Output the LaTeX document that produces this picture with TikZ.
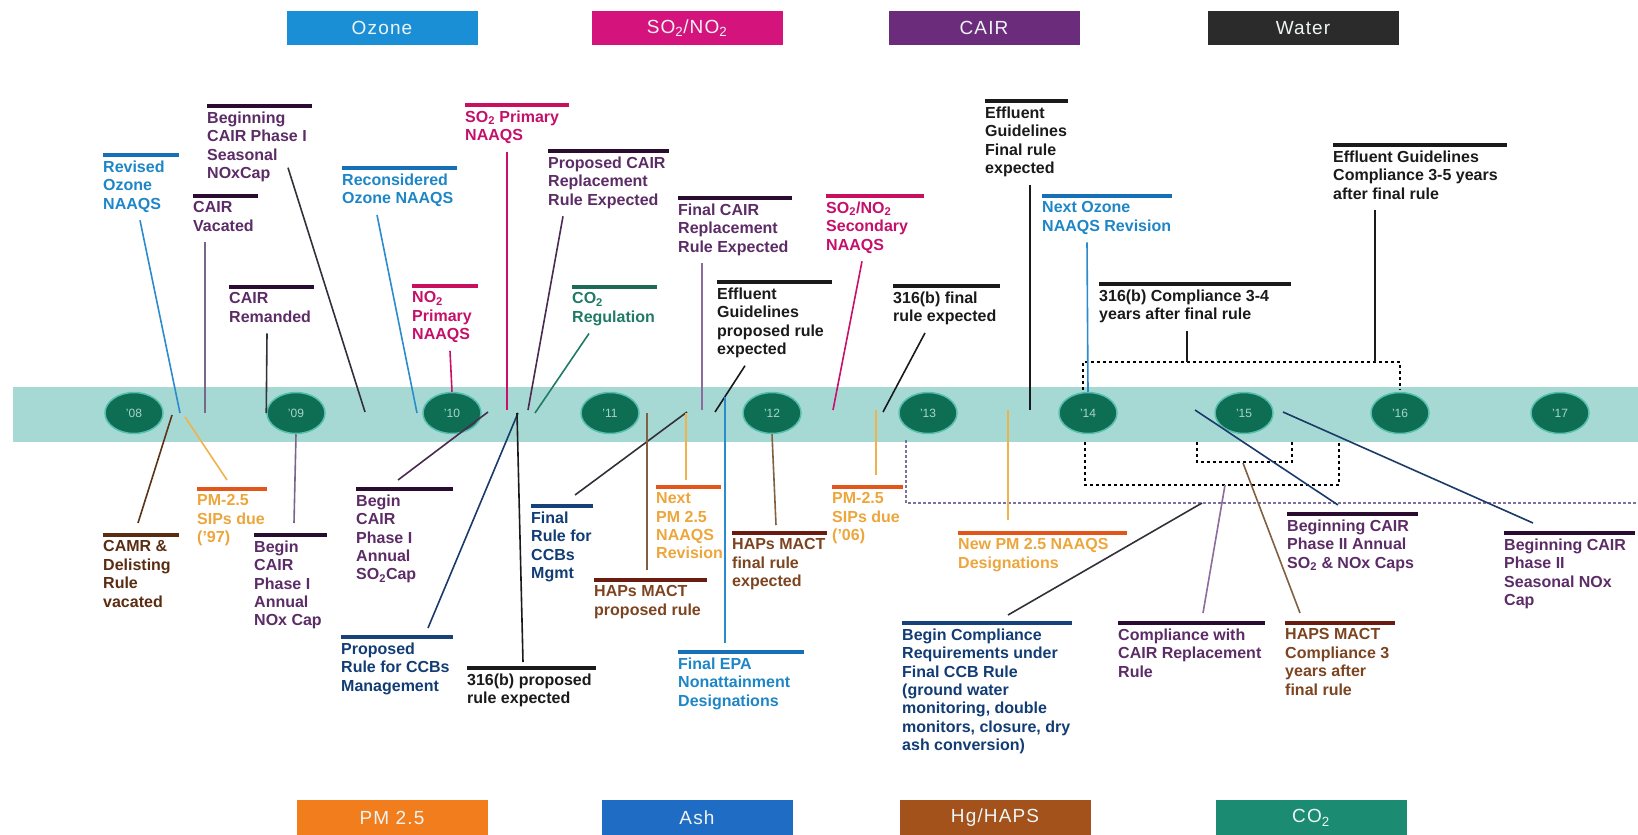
\documentclass[tikz,border=0pt]{standalone}
\usepackage{fontspec}
\setmainfont{Liberation Sans}
\newfontfamily\legfont{Liberation Sans}[LetterSpace=6]
\usetikzlibrary{shapes.geometric,calc}

\definecolor{bandteal}{HTML}{A7D9D4}
\definecolor{yeargreen}{HTML}{0E6E54}
\definecolor{yearring}{HTML}{58BFAE}
\definecolor{yeartext}{HTML}{A8D4CA}
\definecolor{legtext}{HTML}{EEF4F4}
% legend colours
\definecolor{ozleg}{HTML}{1B8FD6}
\definecolor{magleg}{HTML}{D4147C}
\definecolor{cairleg}{HTML}{6B2C7C}
\definecolor{waterleg}{HTML}{2B2B2B}
\definecolor{pmleg}{HTML}{F27D1C}
\definecolor{ashleg}{HTML}{1F6CC4}
\definecolor{hgleg}{HTML}{A3521C}
\definecolor{co2leg}{HTML}{1B8C72}
% label text and bar colours
\definecolor{oztext}{HTML}{1E86C6}
\definecolor{ozbar}{HTML}{1670B8}
\definecolor{magtext}{HTML}{C4106A}
\definecolor{magbar}{HTML}{C8105E}
\definecolor{cairtext}{HTML}{5C2C66}
\definecolor{cairbar}{HTML}{2A0C30}
\definecolor{blacktext}{HTML}{1A1A1A}
\definecolor{camrtext}{HTML}{5A2C12}
\definecolor{pmtext}{HTML}{ECA63C}
\definecolor{pmbar}{HTML}{E2561A}
\definecolor{navytext}{HTML}{123C74}
\definecolor{navybar}{HTML}{16417A}
\definecolor{hapstext}{HTML}{7C4420}
\definecolor{hapsbar}{HTML}{6A1C10}
\definecolor{co2text}{HTML}{1F7A68}
\definecolor{co2bar}{HTML}{1D6A56}
% leader line colours
\definecolor{ozline}{HTML}{2A8CCC}
\definecolor{cairline}{HTML}{7A6688}
\definecolor{darkline}{HTML}{33303A}
\definecolor{magline}{HTML}{C8106A}
\definecolor{propline}{HTML}{4A2A50}
\definecolor{co2line}{HTML}{1F7A66}
\definecolor{fincairline}{HTML}{8C6C9C}
\definecolor{brownline}{HTML}{5A3418}
\definecolor{pmline}{HTML}{F0B24A}
\definecolor{navyline}{HTML}{1A3A6A}
\definecolor{hapsline}{HTML}{806040}
\definecolor{dotline}{HTML}{8070A0}

\tikzset{
  evtext/.style={anchor=north west, inner xsep=0pt, inner ysep=5.5pt, align=left, text=#1,
    font=\fontsize{16}{18.4}\selectfont\bfseries, execute at begin node=\strut},
  topbar/.style={draw=#1, line width=4pt},
  leader/.style={draw=#1, line width=1.6pt},
  yearnode/.style={ellipse, fill=yeargreen, draw=yearring, line width=1.5pt, minimum width=58pt,
    minimum height=41pt, inner sep=0pt, text=yeartext, font=\fontsize{12}{14}\selectfont},
  legbox/.style={fill=#1, minimum width=191pt, minimum height=34pt, inner sep=0pt, text=legtext,
    font=\legfont\fontsize{19}{22}\selectfont},
  bracket/.style={draw=black, line width=1.4pt, dashed},
}

\begin{document}
\begin{tikzpicture}[x=1pt,y=1pt,yscale=-1,xscale=1]
\useasboundingbox (0,0) rectangle (1638,835);

% Legend top
\node[legbox=ozleg] (lozone) at (382,28) {Ozone};
\node[legbox=magleg] (lso2) at (687,28) {SO\textsubscript{2}/NO\textsubscript{2}};
\node[legbox=cairleg] (lcair) at (984,28) {CAIR};
\node[legbox=waterleg] (lwater) at (1303,28) {Water};
% Legend bottom
\node[legbox=pmleg, minimum height=36pt] (lpm) at (392,818) {PM 2.5};
\node[legbox=ashleg, minimum height=36pt] (lash) at (697,818) {Ash};
\node[legbox=hgleg, minimum height=36pt] (lhg) at (995,818) {Hg/HAPS};
\node[legbox=co2leg, minimum height=36pt] (lco2) at (1311,818) {CO\textsubscript{2}};

%Shape: timeline band
\fill[bandteal] (13,387) rectangle (1638,442);
% years
\node[yearnode] (y08) at (134,413) {'08};
\node[yearnode] (y09) at (296,413) {'09};
\node[yearnode] (y10) at (452,413) {'10};
\node[yearnode] (y11) at (610,413) {'11};
\node[yearnode] (y12) at (772,413) {'12};
\node[yearnode] (y13) at (928,413) {'13};
\node[yearnode] (y14) at (1088,413) {'14};
\node[yearnode] (y15) at (1244,413) {'15};
\node[yearnode] (y16) at (1400,413) {'16};
\node[yearnode] (y17) at (1560,413) {'17};

% band points where the leaders end
\coordinate (revozT) at (180,413);
\coordinate (cairvacT) at (205,413);
\coordinate (cairpsT) at (365,412);
\coordinate (reconozT) at (417,413);
\coordinate (so2pT) at (507,410);
\coordinate (propcairT) at (528,410);
\coordinate (co2regT) at (535,413);
\coordinate (fincairT) at (702,410);
\coordinate (effpropT) at (715,412);
\coordinate (so2secT) at (833,410);
\coordinate (bfinT) at (883,412);
\coordinate (efffinT) at (1030,410);
\coordinate (camrT) at (172,415);
\coordinate (pmaT) at (185,417);
\coordinate (cairsoT) at (488,412);
\coordinate (propccbT) at (518,413);
\coordinate (bpropT) at (517,413);
\coordinate (finccbT) at (687,412);
\coordinate (hapspropT) at (647,413);
\coordinate (nextpmT) at (686,413);
\coordinate (finepaT) at (725,397);
\coordinate (pmbT) at (876,410);
\coordinate (newpmT) at (1008,410);
\coordinate (cairpaT) at (1195,410);
\coordinate (cairpbT) at (1283,412);

%Shape: brackets
\draw[bracket] (1083,390) -- (1083,362) -- (1400,362) -- (1400,390);
\coordinate (bcompT) at (1187,362);
\coordinate (effcompT) at (1375,362);
\draw[bracket] (1085,442) -- (1085,485) -- (1339,485) -- (1339,441);
\coordinate (cairreplT) at (1225,485);
\draw[bracket] (1197,442) -- (1197,462) -- (1292,462) -- (1292,440);
\coordinate (hapscompT) at (1243,463);
\draw[dotline, line width=1.4pt, densely dashed] (906,440) -- (906,503) -- (1638,503);
\coordinate (ccbcompT) at (1202,503);

% Text Node -- above the band
\node[evtext=oztext] (revoz) at (103,155) {Revised\\Ozone\\NAAQS};
\draw[topbar=ozbar] (revoz.north west) -- ++(76,0);
\draw[leader=ozline] ($(revoz.south west)+(37,0)$) -- (revozT);

\node[evtext=cairtext] (cairvac) at (193,196) {CAIR\\Vacated};
\draw[topbar=cairbar] (cairvac.north west) -- ++(65,0);
\draw[leader=cairline] ($(cairvac.south west)+(12,0)$) -- (cairvacT);

\node[evtext=cairtext] (cairps) at (207,106) {Beginning\\CAIR Phase I\\Seasonal\\NOxCap};
\draw[topbar=cairbar] (cairps.north west) -- ++(105,0);
\draw[leader=darkline] ($(cairps.south west)+(81,-22)$) -- (cairpsT);

\node[evtext=oztext] (reconoz) at (342,168) {Reconsidered\\Ozone NAAQS};
\draw[topbar=ozbar] (reconoz.north west) -- ++(115,0);
\draw[leader=ozline] ($(reconoz.south west)+(35,0)$) -- (reconozT);

\node[evtext=cairtext] (cairrem) at (229,287) {CAIR\\Remanded};
\draw[topbar=cairbar] (cairrem.north west) -- ++(85,0);
\draw[leader=darkline] ($(cairrem.south west)+(38,0)$) -- (y09.west);

\node[evtext=magtext] (so2p) at (465,105) {SO\textsubscript{2} Primary\\NAAQS};
\draw[topbar=magbar] (so2p.north west) -- ++(104,0);
\draw[leader=magline] ($(so2p.south west)+(42,0)$) -- (so2pT);

\node[evtext=magtext] (no2p) at (412,286) {NO\textsubscript{2}\\Primary\\NAAQS};
\draw[topbar=magbar] (no2p.north west) -- ++(66,0);
\draw[leader=magline] ($(no2p.south west)+(38,0)$) -- (y10.north);

\node[evtext=cairtext] (propcair) at (548,151) {Proposed CAIR\\Replacement\\Rule Expected};
\draw[topbar=cairbar] (propcair.north west) -- ++(121,0);
\draw[leader=propline] ($(propcair.south west)+(15,0)$) -- (propcairT);

\node[evtext=co2text] (co2reg) at (572,287) {CO\textsubscript{2}\\Regulation};
\draw[topbar=co2bar] (co2reg.north west) -- ++(85,0);
\draw[leader=co2line] ($(co2reg.south west)+(17,0)$) -- (co2regT);

\node[evtext=cairtext] (fincair) at (678,198) {Final CAIR\\Replacement\\Rule Expected};
\draw[topbar=cairbar] (fincair.north west) -- ++(114,0);
\draw[leader=fincairline] ($(fincair.south west)+(24,0)$) -- (fincairT);

\node[evtext=blacktext] (effprop) at (717,282) {Effluent\\Guidelines\\proposed rule\\expected};
\draw[topbar=blacktext] (effprop.north west) -- ++(115,0);
\draw[leader=blacktext] ($(effprop.south west)+(28,0)$) -- (effpropT);

\node[evtext=magtext] (so2sec) at (826,196) {SO\textsubscript{2}/NO\textsubscript{2}\\Secondary\\NAAQS};
\draw[topbar=magbar] (so2sec.north west) -- ++(98,0);
\draw[leader=magline] ($(so2sec.south west)+(36,0)$) -- (so2secT);

\node[evtext=blacktext] (bfin) at (893,286) {316(b) final\\rule expected};
\draw[topbar=blacktext] (bfin.north west) -- ++(107,0);
\draw[leader=blacktext] ($(bfin.south west)+(32,0)$) -- (bfinT);

\node[evtext=blacktext] (efffin) at (985,101) {Effluent\\Guidelines\\Final rule\\expected};
\draw[topbar=blacktext] (efffin.north west) -- ++(83,0);
\draw[leader=blacktext] ($(efffin.south west)+(45,0)$) -- (efffinT);

\node[evtext=oztext] (nextoz) at (1042,196) {Next Ozone\\NAAQS Revision};
\draw[topbar=ozbar] (nextoz.north west) -- ++(130,0);
\draw[leader=ozline] ($(nextoz.south west)+(45,0)$) -- (y14.north);

\node[evtext=blacktext] (bcomp) at (1099,284) {316(b) Compliance 3-4\\years after final rule};
\draw[topbar=blacktext] (bcomp.north west) -- ++(192,0);
\draw[leader=blacktext] ($(bcomp.south west)+(88,0)$) -- (bcompT);

\node[evtext=blacktext] (effcomp) at (1333,145) {Effluent Guidelines\\Compliance 3-5 years\\after final rule};
\draw[topbar=blacktext] (effcomp.north west) -- ++(174,0);
\draw[leader=blacktext] ($(effcomp.south west)+(42,0)$) -- (effcompT);

% Text Node -- below the band
\node[evtext=camrtext] (camr) at (103,535) {CAMR \&\\Delisting\\Rule\\vacated};
\draw[topbar=camrtext] (camr.north west) -- ++(76,0);
\draw[leader=brownline] ($(camr.north west)+(35,-12)$) -- (camrT);

\node[evtext=pmtext] (pma) at (197,489) {PM-2.5\\SIPs due\\('97)};
\draw[topbar=pmbar] (pma.north west) -- ++(70,0);
\draw[leader=pmline] ($(pma.north west)+(30,-9)$) -- (pmaT);

\node[evtext=cairtext] (cairpn) at (254,535) {Begin\\CAIR\\Phase I\\Annual\\NOx Cap};
\draw[topbar=cairbar] (cairpn.north west) -- ++(73,0);
\draw[leader=cairline] ($(cairpn.north west)+(40,-12)$) -- (y09.south);

\node[evtext=cairtext] (cairso) at (356,489) {Begin\\CAIR\\Phase I\\Annual\\SO\textsubscript{2}Cap};
\draw[topbar=cairbar] (cairso.north west) -- ++(97,0);
\draw[leader=propline] ($(cairso.north west)+(42,-9)$) -- (cairsoT);

\node[evtext=navytext] (propccb) at (341,637) {Proposed\\Rule for CCBs\\Management};
\draw[topbar=navybar] (propccb.north west) -- ++(112,0);
\draw[leader=navyline] ($(propccb.north west)+(87,-9)$) -- (propccbT);

\node[evtext=blacktext] (bprop) at (467,668) {316(b) proposed\\rule expected};
\draw[topbar=blacktext] (bprop.north west) -- ++(129,0);
\draw[leader=blacktext] ($(bprop.north west)+(56,-6)$) -- (bpropT);

\node[evtext=navytext] (finccb) at (531,506) {Final\\Rule for\\CCBs\\Mgmt};
\draw[topbar=navybar] (finccb.north west) -- ++(62,0);
\draw[leader=darkline] ($(finccb.north west)+(44,-11)$) -- (finccbT);

\node[evtext=hapstext] (hapsprop) at (594,580) {HAPs MACT\\proposed rule};
\draw[topbar=hapsbar] (hapsprop.north west) -- ++(113,0);
\draw[leader=hapsline] ($(hapsprop.north west)+(53,-10)$) -- (hapspropT);

\node[evtext=pmtext] (nextpm) at (656,487) {Next\\PM 2.5\\NAAQS\\Revision};
\draw[topbar=pmbar] (nextpm.north west) -- ++(65,0);
\draw[leader=pmline] ($(nextpm.north west)+(30,-7)$) -- (nextpmT);

\node[evtext=hapstext] (hapsfin) at (732,533) {HAPs MACT\\final rule\\expected};
\draw[topbar=hapsbar] (hapsfin.north west) -- ++(95,0);
\draw[leader=hapsline] ($(hapsfin.north west)+(44,-8)$) -- (y12.south);

\node[evtext=oztext] (finepa) at (678,652) {Final EPA\\Nonattainment\\Designations};
\draw[topbar=ozbar] (finepa.north west) -- ++(126,0);
\draw[leader=ozline] ($(finepa.north west)+(47,-9)$) -- (finepaT);

\node[evtext=pmtext] (pmb) at (832,487) {PM-2.5\\SIPs due\\('06)};
\draw[topbar=pmbar] (pmb.north west) -- ++(71,0);
\draw[leader=pmline] ($(pmb.north west)+(44,-12)$) -- (pmbT);

\node[evtext=pmtext] (newpm) at (958,533) {New PM 2.5 NAAQS\\Designations};
\draw[topbar=pmbar] (newpm.north west) -- ++(169,0);
\draw[leader=pmline] ($(newpm.north west)+(50,-13)$) -- (newpmT);

\node[evtext=navytext] (ccbcomp) at (902,623) {Begin Compliance\\Requirements under\\Final CCB Rule\\(ground water\\monitoring, double\\monitors, closure, dry\\ash conversion)};
\draw[topbar=navybar] (ccbcomp.north west) -- ++(170,0);
\draw[leader=darkline] ($(ccbcomp.north west)+(106,-8)$) -- (ccbcompT);

\node[evtext=cairtext] (cairrepl) at (1118,623) {Compliance with\\CAIR Replacement\\Rule};
\draw[topbar=cairbar] (cairrepl.north west) -- ++(147,0);
\draw[leader=fincairline] ($(cairrepl.north west)+(85,-10)$) -- (cairreplT);

\node[evtext=hapstext] (hapscomp) at (1285,623) {HAPS MACT\\Compliance 3\\years after\\final rule};
\draw[topbar=hapsbar] (hapscomp.north west) -- ++(110,0);
\draw[leader=hapsline] ($(hapscomp.north west)+(15,-10)$) -- (hapscompT);

\node[evtext=cairtext] (cairpa) at (1287,514) {Beginning CAIR\\Phase II Annual\\SO\textsubscript{2} \& NOx Caps};
\draw[topbar=cairbar] (cairpa.north west) -- ++(131,0);
\draw[leader=navyline] ($(cairpa.north west)+(51,-9)$) -- (cairpaT);

\node[evtext=cairtext] (cairpb) at (1504,533) {Beginning CAIR\\Phase II\\Seasonal NOx\\Cap};
\draw[topbar=cairbar] (cairpb.north west) -- ++(131,0);
\draw[leader=navyline] ($(cairpb.north west)+(29,-10)$) -- (cairpbT);

\end{tikzpicture}
\end{document}
